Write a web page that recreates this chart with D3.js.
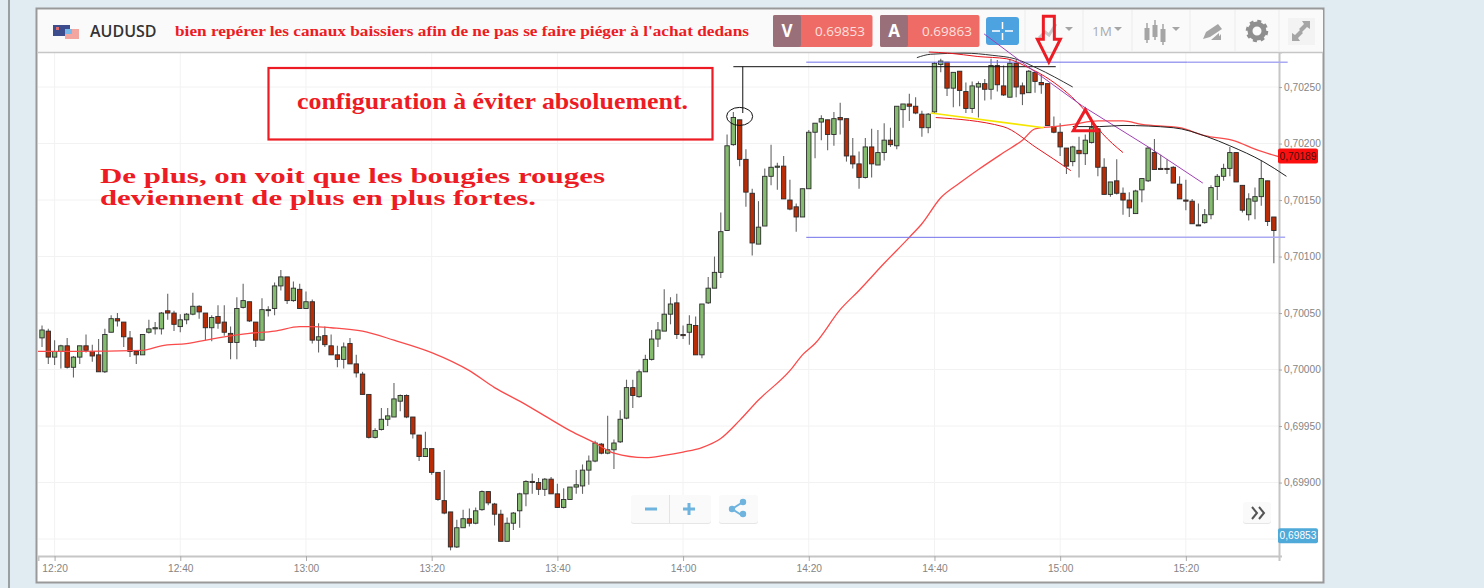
<!DOCTYPE html>
<html>
<head>
<meta charset="utf-8">
<title>AUDUSD</title>
<script src="https://cdn.jsdelivr.net/npm/d3@7"></script>
<style>
    html, body { margin: 0; padding: 0; background: #e0ebf2; }
    svg { display: block; }
    text { font-family: "Open Sans", sans-serif; }
    .note { font-family: "Liberation Serif", serif; font-weight: bold; fill: #ed1c24; }
    .tick text { font-family: "Liberation Sans", sans-serif; font-size: 10.2px; fill: #858585; }
</style>
</head>
<body>
<div id="chart"></div>
<script>
// candle values, in 1/100000 above 0.70000, one candle per minute from 12:18
var opens = [28,34,11,16,21,2,11,21,16,13,
    -2,33,45,42,28,16,13,33,36,36,
    52,50,38,44,49,56,50,37,47,42,
    32,24,55,60,42,26,53,54,74,82,
    61,71,54,60,26,30,21,13,9,23,
    5,-4,-22,-60,-53,-44,-42,-28,-23,-42,
    -58,-77,-70,-91,-116,-126,-157,-140,-132,-136,
    -124,-108,-119,-128,-152,-136,-125,-110,-99,-100,
    -106,-97,-110,-122,-115,-104,-103,-89,-81,-66,
    -74,-71,-64,-43,-16,-24,-2,9,27,34,
    49,59,31,33,39,13,59,72,86,123,
    199,221,186,156,111,127,171,179,180,150,
    144,135,160,210,219,221,208,223,222,189,
    182,170,197,181,192,203,198,230,235,233,
    226,214,228,270,272,249,264,246,231,250,
    253,248,269,251,241,271,251,245,263,254,
    253,215,210,196,184,194,191,201,213,179,
    155,167,156,150,138,159,167,192,178,178,
    179,164,150,149,128,130,137,162,171,178,
    192,163,137,149,153,167,135];
var closes = [35,11,16,21,2,11,21,17,12,-2,
    31,45,43,29,16,13,31,36,37,50,
    50,40,44,49,56,51,37,46,41,33,
    24,54,61,43,26,53,53,74,82,61,
    72,54,60,26,29,22,13,9,20,5,
    -3,-22,-60,-54,-44,-41,-26,-23,-42,-57,
    -77,-70,-91,-115,-127,-157,-140,-132,-136,-125,
    -108,-118,-128,-152,-136,-127,-110,-99,-100,-106,
    -97,-110,-122,-115,-104,-102,-89,-81,-65,-74,
    -71,-65,-44,-16,-23,-2,9,27,35,49,
    58,31,30,40,13,58,72,86,122,198,
    223,186,157,112,126,171,179,180,151,142,
    135,160,210,218,222,208,222,221,189,182,
    170,197,182,192,203,199,233,235,233,227,
    214,226,271,273,249,263,247,231,251,253,
    248,269,252,243,271,250,244,264,255,252,
    216,210,197,180,197,191,203,214,179,155,
    166,156,150,143,158,169,196,177,177,177,
    165,151,149,129,128,137,161,171,178,192,
    166,141,151,153,169,131,123];
var highs = [39,36,26,22,28,12,21,31,22,27,
    36,48,50,42,34,17,31,44,42,51,
    67,52,49,50,68,57,50,48,57,57,
    38,64,76,60,42,63,56,77,88,82,
    78,76,69,62,41,38,31,21,24,28,
    13,-2,-22,-52,-34,-34,-12,-22,-22,-42,
    -58,-55,-70,-91,-89,-126,-133,-124,-123,-122,
    -107,-108,-118,-124,-131,-126,-109,-98,-92,-96,
    -96,-95,-101,-105,-104,-89,-84,-76,-63,-65,
    -41,-62,-36,-9,-9,0,13,35,42,71,
    64,67,39,48,47,58,82,100,139,208,
    228,221,195,160,149,178,199,183,189,168,
    147,160,212,218,225,221,228,236,222,205,
    193,205,213,212,218,214,233,235,244,241,
    229,227,272,275,272,263,264,254,255,255,
    257,275,274,269,275,274,254,265,263,261,
    253,224,218,196,198,206,208,223,213,187,
    166,186,161,157,159,169,197,204,190,186,
    180,171,168,151,147,142,163,173,182,197,
    192,163,156,161,185,167,135];
var lows = [20,5,4,1,1,-7,5,15,7,-2,
    -3,33,38,20,11,5,13,32,31,31,
    44,34,33,40,48,45,26,25,36,30,
    9,9,54,42,20,26,47,48,70,58,
    60,54,54,23,15,20,13,2,1,5,
    -7,-22,-61,-61,-54,-50,-42,-37,-43,-61,
    -81,-77,-93,-116,-128,-160,-158,-140,-139,-137,
    -125,-120,-138,-152,-152,-142,-140,-121,-110,-111,
    -112,-110,-122,-123,-115,-110,-110,-102,-82,-75,
    -75,-88,-65,-44,-34,-25,-2,8,20,34,
    40,27,27,22,13,10,58,72,81,123,
    198,180,144,101,111,127,163,159,151,141,
    122,135,160,187,203,194,198,208,184,178,
    160,169,170,181,185,197,195,214,220,226,
    206,209,227,263,242,232,233,227,227,223,
    238,239,246,242,241,241,234,245,245,244,
    216,209,189,173,180,170,181,200,171,155,
    153,155,137,135,138,148,166,177,177,173,
    165,151,141,129,127,129,133,150,167,171,
    166,139,132,133,145,127,94];

// red moving average, read at some minutes only (minutes after 12:18)
var maMinutes = [-1,5,16,19,23,28,33,37,41,43,46,51,56,62,68,72,76,80,84,88,91,96,99,102,105,108,111,114,119,121,123,127,130,134,138,140,143,146,149,153,156,158,161,164,168,172,175,181,185,190,193,197];
var maValues = [16,16,17,21,23,28,32,34,38,38,37,34,26,15,-1,-16,-28,-41,-54,-65,-74,-78,-76,-73,-69,-61,-45,-27,-1,13,23,53,70,94,117,129,152,165,177,192,203,213,215,217,220,220,217,214,207,202,195,188];

// axis labels
var timeLabels = ["12:20","12:40","13:00","13:20","13:40","14:00","14:20","14:40","15:00","15:20"];
var priceTicks = [0.699,0.6995,0.7,0.7005,0.701,0.7015,0.702,0.7025];
var lastPrice = 0.70189;
var bidPrice = 0.69853;

// hand drawn lines on top of the chart: [minute, value] like the candles
var topBlack = [[139.2,276],[141.4,279],[146.7,280],[151.3,278],[154.8,275],[158.2,267],[164,250]];
var topRed = [[141.1,281],[144.3,280],[148.9,277],[153.5,275],[157,267],[160.5,256],[165.8,230],[168.7,209],[172,192]];
var purpleLine = [[149.9,297],[155.9,272],[165.6,233],[176.3,196],[184.7,165]];
var yellowLine = [[141.4,227],[159.4,214]];
var lowRed = [[142.2,223],[152.9,215],[158.3,196],[163.7,176]];
var lowBlack = [[164,215],[168.3,215],[172,216],[180,214],[185.4,206],[189,198],[194.3,184],[198,171]];
var levelBlack = [[110,268],[161.3,268]];
var stemBlack = [[111.5,268],[111.5,227]];
var blueTop = [[121.6,272],[182.2,272]];
var blueTopEnd = [[182.2,272],[198.2,272]];
var blueBottom = [[121.6,117],[162,117]];
var blueBottomEnd = [[162,117],[197.8,117]];

// define svg area and chart area
var svgWidth = 1484;
var svgHeight = 588;
var plot = { left: 38, right: 1279, top: 52, bottom: 556 };

var svg = d3.select("#chart")
    .append("svg")
    .attr("width", svgWidth)
    .attr("height", svgHeight);

// -------------------------SCALES --------------------------------
var t0 = Date.UTC(2016, 0, 4, 12, 18);

function minuteToDate(m) {
    return new Date(t0 + m * 60000);
}

function labelToDate(label) {
    var p = label.split(":");
    return new Date(Date.UTC(2016, 0, 4, +p[0], +p[1]));
}

function toPrice(v) {
    return 0.7 + v / 100000;
}

var xScale = d3.scaleUtc()
    .domain([minuteToDate(-0.64), minuteToDate(196.82)])
    .range([plot.left, plot.right]);

var yScale = d3.scaleLinear()
    .domain([0.69835, 0.70281])
    .range([plot.bottom, plot.top]);

var priceFormat = d => d.toFixed(5).replace(".", ",");

// -------------------------FRAME --------------------------------
svg.append("rect")
    .attr("x", 36.5).attr("y", 8.5)
    .attr("width", 1287).attr("height", 574)
    .attr("fill", "#fff")
    .attr("stroke", "#999")
    .attr("stroke-width", 2);

svg.append("rect")
    .attr("x", 8).attr("y", -5)
    .attr("width", 2).attr("height", 600)
    .attr("fill", "#9a9fa3");

// grid
var gridGroup = svg.append("g");
gridGroup.selectAll("line.gx")
    .data(timeLabels)
    .enter()
    .append("line")
    .attr("x1", d => xScale(labelToDate(d)))
    .attr("x2", d => xScale(labelToDate(d)))
    .attr("y1", plot.top)
    .attr("y2", plot.bottom)
    .attr("stroke", "#f2f2f2");
gridGroup.selectAll("line.gy")
    .data(priceTicks.concat([0.6985]))
    .enter()
    .append("line")
    .attr("x1", plot.left)
    .attr("x2", plot.right)
    .attr("y1", d => yScale(d))
    .attr("y2", d => yScale(d))
    .attr("stroke", "#f2f2f2");

// axes
var bottomAxis = d3.axisBottom(xScale)
    .tickValues(timeLabels.map(labelToDate))
    .tickFormat(d3.utcFormat("%H:%M"))
    .tickSize(5)
    .tickPadding(4);
var xAxis = svg.append("g")
    .attr("transform", `translate(0, ${plot.bottom})`)
    .call(bottomAxis);
xAxis.select(".domain").attr("stroke", "#c6c6c6").attr("stroke-width", 2);
xAxis.selectAll(".tick line").attr("stroke", "#aaa");

var rightAxis = d3.axisRight(yScale)
    .tickValues(priceTicks)
    .tickFormat(priceFormat)
    .tickSize(3)
    .tickPadding(2);
var yAxis = svg.append("g")
    .attr("transform", `translate(${plot.right}, 0)`)
    .call(rightAxis);
yAxis.select(".domain").attr("stroke", "#c6c6c6").attr("stroke-width", 2);
yAxis.selectAll(".tick line").attr("stroke", "#aaa");

// -------------------------CANDLES --------------------------------
svg.append("clipPath")
    .attr("id", "plotClip")
    .append("rect")
    .attr("x", plot.left).attr("y", plot.top)
    .attr("width", plot.right - plot.left).attr("height", plot.bottom - plot.top);

var candleData = opens.map((d, i) => ({ i: i, o: d, c: closes[i], h: highs[i], l: lows[i] }));
var candleGroup = svg.append("g").attr("clip-path", "url(#plotClip)");

candleGroup.selectAll("line.wick")
    .data(candleData)
    .enter()
    .append("line")
    .attr("class", "wick")
    .attr("x1", d => xScale(minuteToDate(d.i)))
    .attr("x2", d => xScale(minuteToDate(d.i)))
    .attr("y1", d => yScale(toPrice(d.h)))
    .attr("y2", d => yScale(toPrice(d.l)))
    .attr("stroke", "#666")
    .attr("stroke-width", 1.1);

candleGroup.selectAll("rect.body")
    .data(candleData)
    .enter()
    .append("rect")
    .attr("class", "body")
    .attr("x", d => xScale(minuteToDate(d.i)) - 2.2)
    .attr("width", 4.4)
    .attr("y", d => yScale(toPrice(Math.max(d.o, d.c))))
    .attr("height", d => Math.max(1, Math.abs(yScale(toPrice(d.o)) - yScale(toPrice(d.c)))))
    .attr("fill", d => d.c >= d.o ? "#84bb6f" : "#b92c06")
    .attr("stroke", "#2b2b2b")
    .attr("stroke-width", 0.9);

// moving average
var dataLine = d3.line()
    .x(d => xScale(minuteToDate(d[0])))
    .y(d => yScale(toPrice(d[1])));

var curvedLine = d3.line()
    .x(d => xScale(minuteToDate(d[0])))
    .y(d => yScale(toPrice(d[1])))
    .curve(d3.curveMonotoneX);

candleGroup.append("path")
    .attr("d", curvedLine(maMinutes.map((m, i) => [m, maValues[i]])))
    .attr("fill", "none")
    .attr("stroke", "#fb4a4a")
    .attr("stroke-width", 1.3);

// -------------------------HEADER --------------------------------
var header = svg.append("g");
header.append("rect")
    .attr("x", 38).attr("y", 10)
    .attr("width", 1285).attr("height", 42)
    .attr("fill", "#fafafa");
header.append("line")
    .attr("x1", 38).attr("x2", 1323)
    .attr("y1", 52.5).attr("y2", 52.5)
    .attr("stroke", "#c6c6c6")
    .attr("stroke-width", 1.5);

// flags
header.append("rect").attr("x", 53).attr("y", 25).attr("width", 17).attr("height", 11).attr("fill", "#3d4c8c");
header.append("rect").attr("x", 56).attr("y", 27).attr("width", 3).attr("height", 3).attr("fill", "#e06b6b");
header.append("rect").attr("x", 65).attr("y", 29).attr("width", 14).attr("height", 10).attr("fill", "#f3a5a0");
header.append("rect").attr("x", 65).attr("y", 29).attr("width", 7).attr("height", 5).attr("fill", "#79b9ea");

header.append("text")
    .attr("x", 90).attr("y", 37)
    .attr("font-size", 16)
    .attr("font-weight", 600)
    .attr("fill", "#333")
    .text("AUDUSD");

// V and A boxes
var quoteBoxes = [
    { x: 773, letter: "V", value: "0.69853" },
    { x: 880, letter: "A", value: "0.69863" }
];
quoteBoxes.forEach(function(q) {
    header.append("rect").attr("x", q.x).attr("y", 15).attr("width", 99.5).attr("height", 32).attr("rx", 2).attr("fill", "#ee6b66");
    header.append("rect").attr("x", q.x).attr("y", 15).attr("width", 28).attr("height", 32).attr("rx", 2).attr("fill", "#99707a");
    header.append("text").attr("x", q.x + 14).attr("y", 37).attr("text-anchor", "middle").attr("font-size", 17).attr("font-weight", 700).attr("fill", "#fff").text(q.letter);
    header.append("text").attr("x", q.x + 67).attr("y", 36).attr("text-anchor", "middle").attr("font-size", 13.5).attr("fill", "#fde0de").text(q.value);
});

// crosshair button
header.append("rect").attr("x", 986).attr("y", 17).attr("width", 33).attr("height", 28).attr("rx", 3).attr("fill", "#4da3e0");
header.append("path")
    .attr("d", "M992 31h8M1005 31h8M1002.5 22v7M1002.5 33v7")
    .attr("stroke", "#fff").attr("stroke-width", 1.5);

// separators
[1025, 1083, 1132, 1190, 1235, 1279].forEach(function(x) {
    header.append("line").attr("x1", x).attr("x2", x).attr("y1", 10).attr("y2", 52).attr("stroke", "#ececec");
});

// toolbar icons
var iconGrey = "#a5a5a5";
header.append("path").attr("d", "M1039 38l6-6 4 3 7-11").attr("fill", "none").attr("stroke", "#c8c8c8").attr("stroke-width", 3);
function caret(x) {
    header.append("path").attr("d", `M${x - 4} 27h8l-4 4z`).attr("fill", iconGrey);
}
caret(1069); caret(1118); caret(1176);
header.append("text").attr("x", 1092).attr("y", 36).attr("font-size", 13.5).attr("fill", "#aaa").text("1M");
[[1147, 28, 12], [1155, 25, 12], [1163, 29, 13]].forEach(function(c) {
    header.append("line").attr("x1", c[0]).attr("x2", c[0]).attr("y1", c[1] - 5).attr("y2", c[1] + c[2] + 3).attr("stroke", iconGrey).attr("stroke-width", 1.5);
    header.append("rect").attr("x", c[0] - 2.5).attr("y", c[1]).attr("width", 5).attr("height", c[2]).attr("fill", iconGrey);
});
header.append("path").attr("d", "M1203 39l3-7 12-8 4 5-12 8zM1211 40l8-7v7zM1216 40l5-6 0 6z").attr("fill", iconGrey);
header.append("circle").attr("cx", 1257).attr("cy", 31).attr("r", 7).attr("fill", "none").attr("stroke", "#8f8f8f").attr("stroke-width", 5);
header.append("circle").attr("cx", 1257).attr("cy", 31).attr("r", 10).attr("fill", "none").attr("stroke", "#8f8f8f").attr("stroke-width", 2.5).attr("stroke-dasharray", "4 3.85");
header.append("rect").attr("x", 1288).attr("y", 18).attr("width", 27).attr("height", 27).attr("fill", "#f3f3f3");
header.append("path").attr("d", "M1292 41v-8l3 2 5-5 3 3-5 5 2 3zM1310 21v8l-3-2-5 5-3-3 5-5-2-3z").attr("fill", iconGrey);

// -------------------------BUTTONS ON THE CHART --------------------------------
function chartButton(x, y, w, h) {
    svg.append("rect").attr("x", x).attr("y", y + 1).attr("width", w).attr("height", h).attr("rx", 3).attr("fill", "#e6e6e6");
    svg.append("rect").attr("x", x).attr("y", y).attr("width", w).attr("height", h).attr("rx", 3).attr("fill", "#fafafa");
}
chartButton(631, 495, 80, 28);
chartButton(719, 495, 39, 28);
chartButton(1243, 502, 28, 21);
svg.append("line").attr("x1", 669.5).attr("x2", 669.5).attr("y1", 495).attr("y2", 523).attr("stroke", "#e4e4e4");
svg.append("path").attr("d", "M645 509h12M683 509h12M689 503v12").attr("stroke", "#6fb4de").attr("stroke-width", 3);
svg.append("path").attr("d", "M743 502l-11 7 11 7").attr("fill", "none").attr("stroke", "#6fb4de").attr("stroke-width", 2);
[[743, 502], [732, 509], [743, 514]].forEach(function(c) {
    svg.append("circle").attr("cx", c[0]).attr("cy", c[1]).attr("r", 3.2).attr("fill", "#6fb4de");
});
svg.append("path").attr("d", "M1252 507l5 6-5 6M1259 507l5 6-5 6").attr("fill", "none").attr("stroke", "#555").attr("stroke-width", 2);

// price labels
function priceLabel(price, fill, color) {
    var y = yScale(price);
    svg.append("rect").attr("x", 1278).attr("y", y - 7.5).attr("width", 40).attr("height", 15).attr("rx", 2).attr("fill", fill);
    svg.append("text").attr("x", 1298).attr("y", y + 3.6).attr("text-anchor", "middle").attr("font-family", "Liberation Sans").style("font-family", "Liberation Sans").attr("font-size", 10.2).attr("fill", color).text(priceFormat(price));
}
priceLabel(lastPrice, "#fb0f0f", "#4a1010");
priceLabel(bidPrice, "#4fa9d9", "#fff");

// -------------------------ANNOTATIONS --------------------------------
function drawNote(points, color, width, line) {
    svg.append("path")
        .attr("d", (line || curvedLine)(points))
        .attr("fill", "none")
        .attr("stroke", color)
        .attr("stroke-width", width);
}
drawNote(blueTop, "#7070ea", 1, dataLine);
drawNote(blueTopEnd, "#aaaaf2", 1.5, dataLine);
drawNote(blueBottom, "#7070ea", 1, dataLine);
drawNote(blueBottomEnd, "#aaaaf2", 1.5, dataLine);
drawNote(levelBlack, "#111", 1, dataLine);
drawNote(stemBlack, "#111", 1, dataLine);
drawNote(topBlack, "#333", 1);
drawNote(topRed, "#e8141c", 1);
drawNote(purpleLine, "#a13fb5", 1, dataLine);
drawNote(yellowLine, "#f5e600", 1.6, dataLine);
drawNote(lowRed, "#e8141c", 1);
drawNote(lowBlack, "#222", 1);

// circle round the top candles
svg.append("ellipse")
    .attr("cx", xScale(minuteToDate(111)))
    .attr("cy", yScale(toPrice(224)))
    .attr("rx", 13).attr("ry", 9)
    .attr("fill", "none")
    .attr("stroke", "#111");

// big arrow and triangle
var arrowX = xScale(minuteToDate(160.2));
var arrowY = yScale(toPrice(272));
svg.append("path")
    .attr("transform", `translate(${arrowX}, ${arrowY})`)
    .attr("d", "M-5.5 -46H5.5V-23H11.5L0 0L-11.5 -23H-5.5Z")
    .attr("fill", "none")
    .attr("stroke", "#ed1c24")
    .attr("stroke-width", 3);

var triX = xScale(minuteToDate(166));
var triY = yScale(toPrice(230));
svg.append("path")
    .attr("transform", `translate(${triX}, ${triY})`)
    .attr("d", "M0 0L12 21H-12Z")
    .attr("fill", "none")
    .attr("stroke", "#ed1c24")
    .attr("stroke-width", 3);

// text notes
svg.append("text")
    .attr("class", "note")
    .attr("x", 175).attr("y", 36)
    .attr("font-size", 15.5)
    .attr("textLength", 574)
    .attr("lengthAdjust", "spacingAndGlyphs")
    .text("bien repérer les canaux baissiers afin de ne pas se faire piéger à l'achat dedans");

svg.append("rect")
    .attr("x", 268.5).attr("y", 68)
    .attr("width", 444).attr("height", 71.5)
    .attr("fill", "none")
    .attr("stroke", "#ed1c24")
    .attr("stroke-width", 2.2);

svg.append("text")
    .attr("class", "note")
    .attr("x", 297).attr("y", 109)
    .attr("font-size", 23)
    .attr("textLength", 391)
    .attr("lengthAdjust", "spacingAndGlyphs")
    .text("configuration à éviter absoluement.");

svg.append("text")
    .attr("class", "note")
    .attr("x", 100).attr("y", 183)
    .attr("font-size", 22)
    .attr("textLength", 505)
    .attr("lengthAdjust", "spacingAndGlyphs")
    .text("De plus, on voit que les bougies rouges");

svg.append("text")
    .attr("class", "note")
    .attr("x", 100).attr("y", 205)
    .attr("font-size", 22)
    .attr("textLength", 436)
    .attr("lengthAdjust", "spacingAndGlyphs")
    .text("deviennent de plus en plus fortes.");
</script>
</body>
</html>
